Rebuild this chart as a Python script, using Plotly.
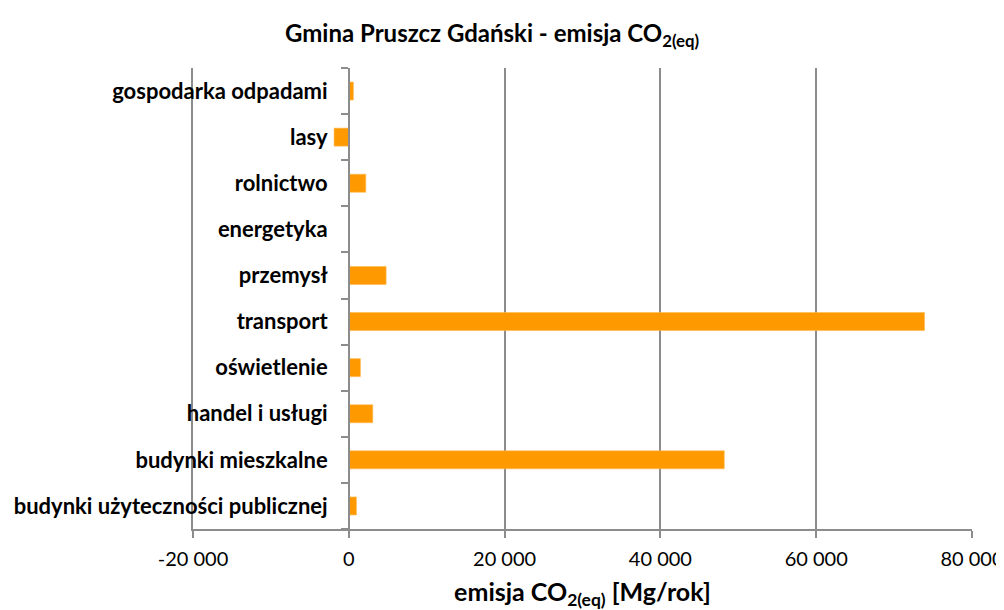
import plotly.graph_objects as go

categories = [
    "budynki użyteczności publicznej",
    "budynki mieszkalne",
    "handel i usługi",
    "oświetlenie",
    "transport",
    "przemysł",
    "energetyka",
    "rolnictwo",
    "lasy",
    "gospodarka odpadami",
]
values = [980, 48200, 3080, 1490, 73900, 4790, 0, 2180, -1890, 590]

x_ticks = [-20000, 0, 20000, 40000, 60000, 80000]
x_tick_labels = ["-20 000", "0", "20 000", "40 000", "60 000", "80 000"]

FONT = "Lato"
GRID = "#8c8c8c"

fig = go.Figure()
fig.add_trace(
    go.Bar(
        y=categories,
        x=values,
        orientation="h",
        marker=dict(color="#ff9900", line=dict(color="#ffb84d", width=0.6)),
        hoverinfo="x+y",
    )
)
# empty helper trace so the left frame line (secondary y axis) is drawn
fig.add_trace(go.Scatter(x=[], y=[], yaxis="y2", showlegend=False, hoverinfo="skip"))

fig.update_layout(
    width=996,
    height=602,
    paper_bgcolor="white",
    plot_bgcolor="white",
    margin=dict(l=185, r=32, t=60, b=81),
    bargap=0.61,
    showlegend=False,
    font=dict(family=FONT, color="#000000"),
    title=dict(
        text="<b>Gmina Pruszcz Gdański - emisja CO<sub>2(eq)</sub></b>",
        x=0.486,
        xanchor="center",
        xref="container",
        y=0.958,
        yanchor="middle",
        yref="container",
        font=dict(family=FONT, size=24, color="#000000"),
    ),
    xaxis=dict(
        range=[-20000, 80000],
        tickvals=x_ticks,
        ticktext=x_tick_labels,
        showgrid=True,
        gridcolor=GRID,
        gridwidth=1.5,
        zeroline=False,
        showline=True,
        linecolor=GRID,
        linewidth=1.5,
        ticks="outside",
        ticklen=7,
        tickcolor=GRID,
        tickwidth=1.5,
        ticklabelstandoff=4,
        tickfont=dict(family=FONT, size=20, color="#000000"),
        title=dict(
            text="<b>emisja CO<sub>2(eq)</sub> [Mg/rok]</b>",
            font=dict(family=FONT, size=25, color="#000000"),
            standoff=30,
        ),
        automargin=False,
        fixedrange=True,
    ),
    yaxis=dict(
        type="category",
        categoryorder="array",
        categoryarray=categories,
        anchor="free",
        position=0.2,
        showgrid=False,
        zeroline=False,
        showline=True,
        linecolor=GRID,
        linewidth=1.5,
        ticks="outside",
        tickson="boundaries",
        ticklen=7,
        tickcolor=GRID,
        tickwidth=1.5,
        ticklabelstandoff=16,
        tickfont=dict(family=FONT, size=22, color="#000000", weight="bold"),
        automargin=False,
        fixedrange=True,
    ),
    yaxis2=dict(
        overlaying="y",
        anchor="x",
        side="left",
        showline=True,
        linecolor=GRID,
        linewidth=1.5,
        showgrid=False,
        zeroline=False,
        showticklabels=False,
        ticks="",
        automargin=False,
        fixedrange=True,
    ),
)

fig.write_html("out.html")
